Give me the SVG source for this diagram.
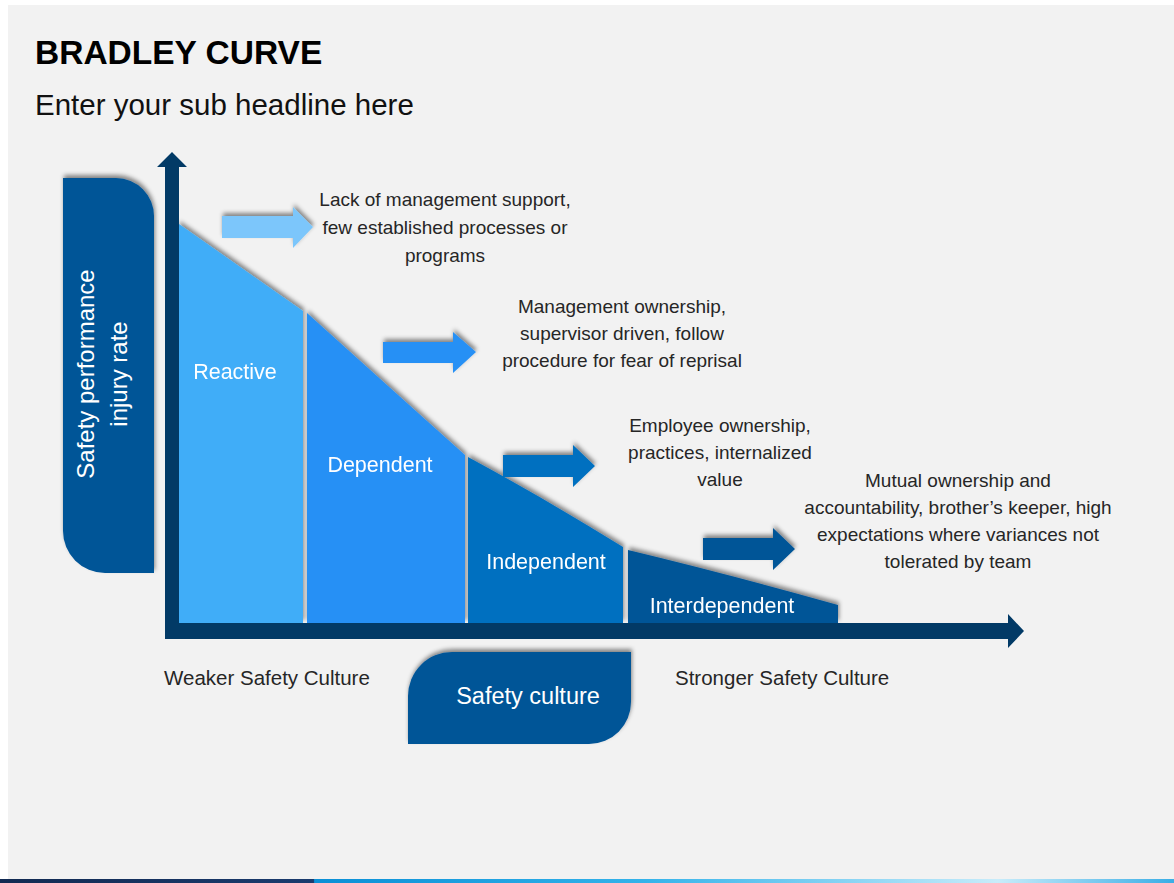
<svg xmlns="http://www.w3.org/2000/svg" width="1174" height="883" viewBox="0 0 1174 883">
  <defs>
    <filter id="sh" x="-20%" y="-20%" width="140%" height="140%">
      <feDropShadow dx="1" dy="-3" stdDeviation="2" flood-color="#000" flood-opacity="0.45"/>
    </filter>
    <linearGradient id="bar" x1="0" y1="0" x2="1174" y2="0" gradientUnits="userSpaceOnUse">
      <stop offset="0" stop-color="#122a52"/>
      <stop offset="0.267" stop-color="#1a3b6e"/>
      <stop offset="0.268" stop-color="#0a8fd6"/>
      <stop offset="0.55" stop-color="#34b3ea"/>
      <stop offset="0.85" stop-color="#c8ecfa"/>
      <stop offset="1" stop-color="#3aaee6"/>
    </linearGradient>
    <style>
      .t { font-family: "Liberation Sans", Arial, sans-serif; fill: #262626; font-size: 19px; text-anchor: middle; }
      .w { font-family: "Liberation Sans", Arial, sans-serif; fill: #ffffff; font-size: 21.5px; text-anchor: middle; }
      .lbl { font-family: "Liberation Sans", Arial, sans-serif; fill: #262626; font-size: 20.5px; }
      .box { fill: #015597; filter: url(#sh); }
      .axis { fill: #023a66; }
    </style>
  </defs>

  <rect x="0" y="0" width="1174" height="883" fill="#ffffff"/>
  <rect x="8" y="5" width="1166" height="874" fill="#f2f2f2"/>
  <rect x="0" y="879" width="1174" height="4" fill="url(#bar)"/>

  <g id="title">
    <text x="35" y="64" style="font-family: 'Liberation Sans', Arial, sans-serif; font-weight: bold; font-size: 33.5px; fill: #000;">BRADLEY CURVE</text>
    <text x="35" y="115" style="font-family: 'Liberation Sans', Arial, sans-serif; font-size: 29.5px; fill: #111;">Enter your sub headline here</text>
  </g>

  <g id="y-label">
    <path class="box" d="M63,178 H116 A38,38 0 0 1 154,216 V573 H105 A42,42 0 0 1 63,531 Z"/>
    <text class="w" style="font-size:24px" transform="translate(94,374) rotate(-90)">Safety performance</text>
    <text class="w" style="font-size:24px" transform="translate(127,374) rotate(-90)">injury rate</text>
  </g>

  <g id="segments" filter="url(#sh)">
    <g id="reactive">
      <path d="M179,224 L303,311 L303,623 L179,623 Z" fill="#41adf8"/>
      <text class="w" x="235" y="379">Reactive</text>
    </g>
    <g id="dependent">
      <path d="M307,313 Q388,386 465,455 L465,623 L307,623 Z" fill="#2890f5"/>
      <text class="w" x="380" y="472">Dependent</text>
    </g>
    <g id="independent">
      <path d="M468,457 Q542,497 623,547 L623,623 L468,623 Z" fill="#0070c0"/>
      <text class="w" x="546" y="569">Independent</text>
    </g>
    <g id="interdependent">
      <path d="M628,550 Q728,574 838,605 L838,623 L628,623 Z" fill="#015597"/>
      <text class="w" x="722" y="613">Interdependent</text>
    </g>
  </g>

  <g id="axes">
    <path class="axis" d="M165,639 V167 H157 L172,152 L187,167 H179 V623 H1008 V614 L1024,631 L1008,648 V639 Z"/>
  </g>

  <g id="connectors" filter="url(#sh)">
    <path d="M222,216 H293 V207 L313,227 L293,248 V238 H222 Z" fill="#7cc6fb"/>
    <path d="M383,342 H453 V332 L476,352 L453,373 V363 H383 Z" fill="#2890f5"/>
    <path d="M503,455 H573 V445 L595,466 L573,487 V477 H503 Z" fill="#0070c0"/>
    <path d="M703,538 H773 V528 L795,549 L773,570 V560 H703 Z" fill="#015597"/>
  </g>

  <g id="desc-1">
    <text class="t" x="445" y="206">Lack of management support,</text>
    <text class="t" x="445" y="234">few established processes or</text>
    <text class="t" x="445" y="262">programs</text>
  </g>
  <g id="desc-2">
    <text class="t" x="622" y="313">Management ownership,</text>
    <text class="t" x="622" y="340">supervisor driven, follow</text>
    <text class="t" x="622" y="367">procedure for fear of reprisal</text>
  </g>
  <g id="desc-3">
    <text class="t" x="720" y="432">Employee ownership,</text>
    <text class="t" x="720" y="459">practices, internalized</text>
    <text class="t" x="720" y="486">value</text>
  </g>
  <g id="desc-4">
    <text class="t" x="958" y="487">Mutual ownership and</text>
    <text class="t" x="958" y="514">accountability, brother’s keeper, high</text>
    <text class="t" x="958" y="541">expectations where variances not</text>
    <text class="t" x="958" y="568">tolerated by team</text>
  </g>

  <g id="x-labels">
    <text class="lbl" x="164" y="685">Weaker Safety Culture</text>
    <text class="lbl" x="675" y="685">Stronger Safety Culture</text>
  </g>

  <g id="x-label-box">
    <path class="box" d="M452,652 H631 V702 A42,42 0 0 1 589,744 H408 V696 A44,44 0 0 1 452,652 Z"/>
    <text class="w" style="font-size:23.5px" x="528" y="704">Safety culture</text>
  </g>
</svg>
